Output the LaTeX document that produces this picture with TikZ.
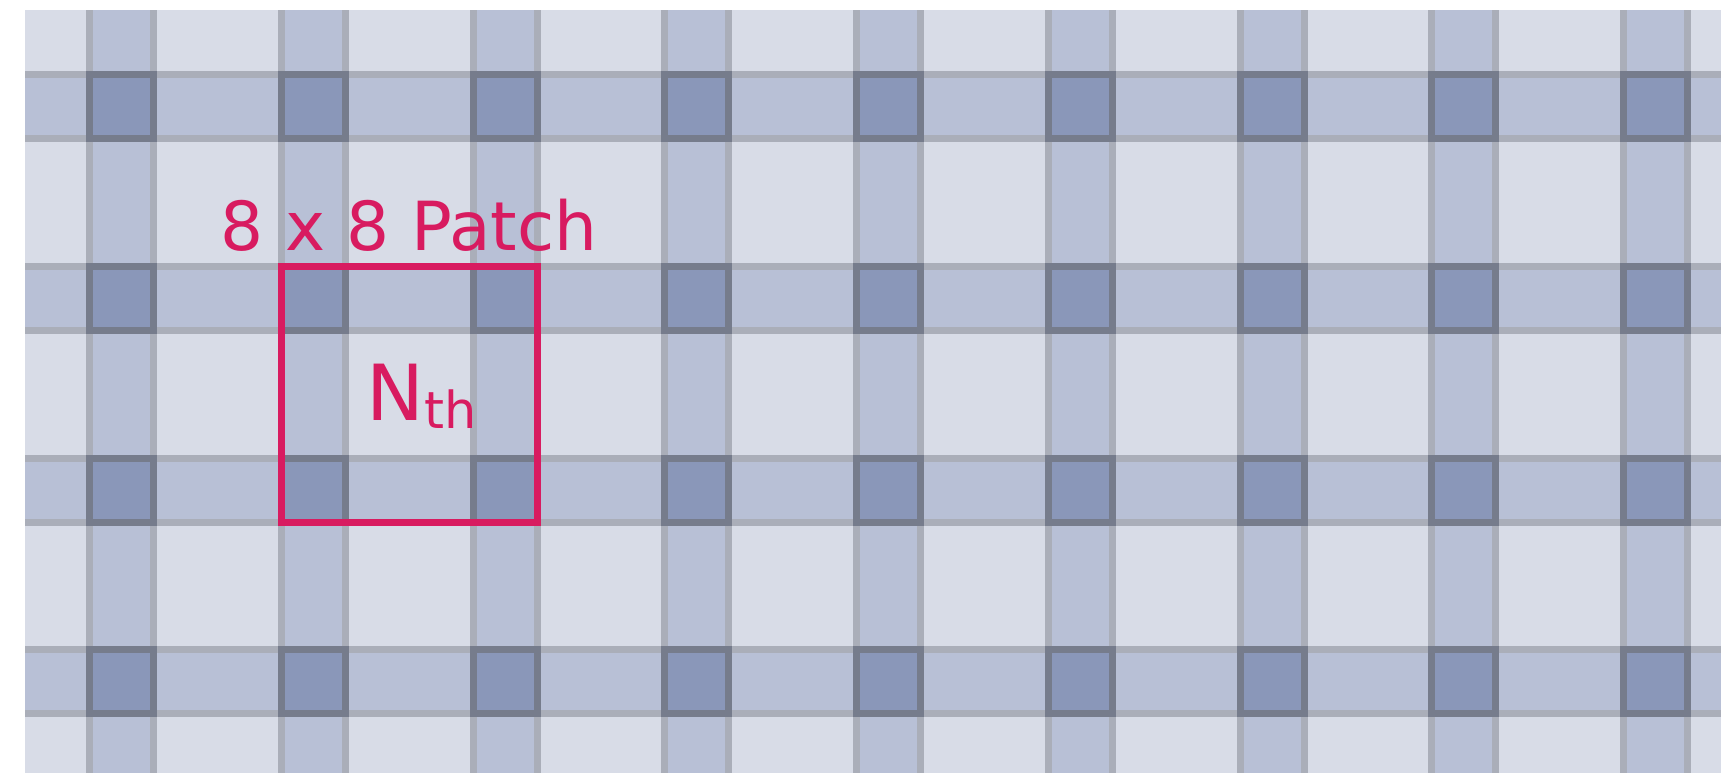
\documentclass[tikz,border=0pt]{standalone}
\usepackage{fontspec}
\setmainfont{DejaVu Sans}
\usetikzlibrary{positioning}

\definecolor{bgblue}{HTML}{D8DCE7}
\definecolor{bandblue}{HTML}{B8C0D6}
\definecolor{crossblue}{HTML}{8A97B9}
\definecolor{edgegray}{HTML}{AAAEB9}
\definecolor{edgedark}{HTML}{767C8C}
\definecolor{patchpink}{HTML}{D81B60}

\begin{document}
\begin{tikzpicture}[x=0.01cm, y=-0.01cm,
  band/.style={fill=bandblue},
  edge/.style={fill=edgegray},
  cross/.style={fill=crossblue},
  crossedge/.style={fill=edgedark},
  patchbox/.style={draw=patchpink, line width=0.07cm, minimum width=2.56cm, minimum height=2.56cm, inner sep=0pt},
  patchtext/.style={text=patchpink, inner sep=0pt}]
  \useasboundingbox (0,0) rectangle (1721,773);
  % background
  \fill[bgblue] (25,10) rectangle (1721,773);
  % vertical bands
  \foreach \i in {0,...,8} {
    \fill[band] ({86+191.75*\i},10) rectangle ++(71,763);
    \fill[edge] ({86+191.75*\i},10) rectangle ++(7,763);
    \fill[edge] ({150+191.75*\i},10) rectangle ++(7,763);
  }
  % horizontal bands
  \foreach \j in {0,...,3} {
    \fill[band] (25,{71+191.75*\j}) rectangle ++(1696,71);
    \fill[edge] (25,{71+191.75*\j}) rectangle ++(1696,7);
    \fill[edge] (25,{135+191.75*\j}) rectangle ++(1696,7);
  }
  % crossings
  \foreach \i in {0,...,8} {
    \foreach \j in {0,...,3} {
      \fill[crossedge] ({86+191.75*\i},{71+191.75*\j}) rectangle ++(71,71);
      \fill[cross] ({93+191.75*\i},{78+191.75*\j}) rectangle ++(57,57);
    }
  }
  % the patch
  \node[patchbox] (patch) at (409.1,394.1) {};
  \node[patchtext, anchor=base west, font=\fontsize{19.25}{23}\selectfont] (title) at (220,251) {8 x 8 Patch};
  \node[patchtext, anchor=base west] (nth) at (366,420) {\fontsize{22}{26}\selectfont N\raisebox{-2.4pt}{\fontsize{14.5}{17}\selectfont th}};
\end{tikzpicture}
\end{document}
